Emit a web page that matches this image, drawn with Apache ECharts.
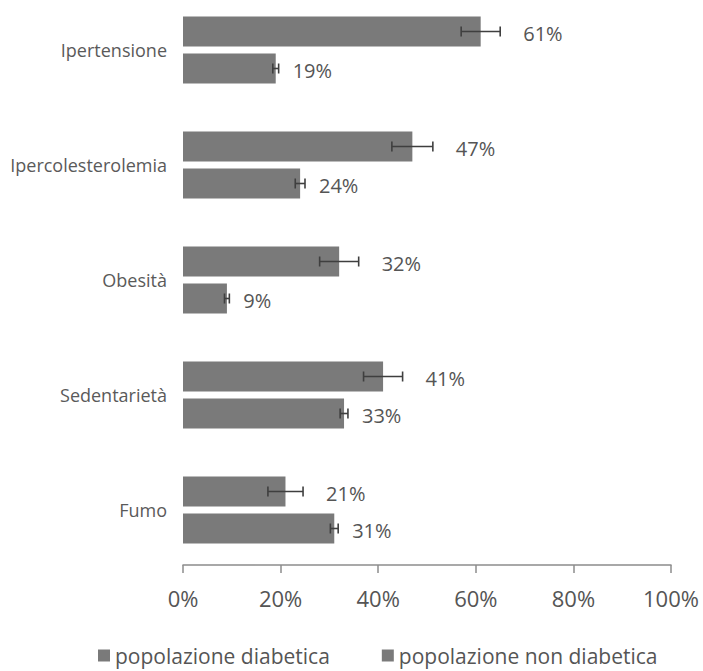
<!DOCTYPE html>
<html>
<head>
<meta charset="utf-8">
<script src="https://cdn.jsdelivr.net/npm/echarts@6/dist/echarts.min.js"></script>
<style>
  html, body { margin: 0; padding: 0; background: #fff; }
  #chart { width: 703px; height: 671px; }
</style>
</head>
<body>
<div id="chart"></div>
<script>
// Risk factors, diabetic vs non-diabetic population (percent, with error margins)
const categories = ['Ipertensione', 'Ipercolesterolemia', 'Obesità', 'Sedentarietà', 'Fumo'];
const seriesNames = ['popolazione diabetica', 'popolazione non diabetica'];
const diabetic = [61, 47, 32, 41, 21];
const nonDiabetic = [19, 24, 9, 33, 31];
const diabeticErr = [4, 4.2, 4, 4, 3.6];
const nonDiabeticErr = [0.6, 1, 0.5, 0.8, 0.8];
const tickValues = [0, 20, 40, 60, 80, 100];

const FONT = "'Open Sans', 'Noto Sans', sans-serif";
const BAR_COLOR = '#7a7a7a';
const BAR_WIDTH = 30;
const BAR_GAP_PX = 7;
const HALF_STEP = (BAR_WIDTH + BAR_GAP_PX) / 2;

// Error bar + value label drawn for one bar series
function errorBars(offset, labelGap, fontSize) {
  return function (params, api) {
    const v = api.value(0);
    const cat = api.value(1);
    const e = api.value(2);
    const lo = api.coord([v - e, cat]);
    const hi = api.coord([v + e, cat]);
    const y = lo[1] + offset;
    const cap = 5;
    const stroke = { stroke: '#3f3f3f', lineWidth: 1.6 };
    return {
      type: 'group',
      children: [
        { type: 'line', shape: { x1: lo[0], y1: y, x2: hi[0], y2: y }, style: stroke },
        { type: 'line', shape: { x1: lo[0], y1: y - cap, x2: lo[0], y2: y + cap }, style: stroke },
        { type: 'line', shape: { x1: hi[0], y1: y - cap, x2: hi[0], y2: y + cap }, style: stroke },
        {
          type: 'text',
          x: hi[0] + labelGap,
          y: y + 2,
          style: {
            text: v + '%',
            fill: '#555',
            font: fontSize + 'px ' + FONT,
            align: 'left',
            verticalAlign: 'middle'
          }
        }
      ]
    };
  };
}

const chart = echarts.init(document.getElementById('chart'), null, { renderer: 'svg' });

chart.setOption({
  animation: false,
  backgroundColor: '#fff',
  textStyle: { fontFamily: FONT },
  // categories sit on ticks; the value axis is pushed down below the last group
  grid: { left: 183, right: 32, top: 50, bottom: 161, containLabel: false },
  legend: {
    data: seriesNames.map(n => ({ name: n, icon: 'rect' })),
    left: 93,
    top: 640,
    itemWidth: 12,
    itemHeight: 12,
    itemGap: 52,
    textStyle: { fontSize: 21, color: '#555', fontFamily: FONT }
  },
  xAxis: {
    type: 'value',
    min: tickValues[0],
    max: tickValues[tickValues.length - 1],
    interval: tickValues[1] - tickValues[0],
    offset: 55,
    axisLine: { show: true, lineStyle: { color: '#8c8c8c', width: 1.5 } },
    axisTick: { show: true, length: 8, lineStyle: { color: '#8c8c8c', width: 1.5 } },
    splitLine: { show: false },
    axisLabel: { formatter: '{value}%', fontSize: 22, color: '#555', margin: 22, fontFamily: FONT }
  },
  yAxis: {
    type: 'category',
    data: categories,
    inverse: true,
    boundaryGap: false,
    axisLine: { show: false },
    axisTick: { show: false },
    axisLabel: { fontSize: 18, color: '#5a5a5a', margin: 16, fontFamily: FONT }
  },
  series: [
    {
      name: seriesNames[0],
      type: 'bar',
      data: diabetic,
      barWidth: BAR_WIDTH,
      barGap: (BAR_GAP_PX / BAR_WIDTH * 100) + '%',
      itemStyle: { color: BAR_COLOR }
    },
    {
      name: seriesNames[1],
      type: 'bar',
      data: nonDiabetic,
      barWidth: BAR_WIDTH,
      itemStyle: { color: BAR_COLOR }
    },
    {
      type: 'custom',
      renderItem: errorBars(-HALF_STEP, 23, 20),
      data: diabetic.map((v, i) => [v, i, diabeticErr[i]]),
      encode: { x: 0, y: 1 },
      z: 5
    },
    {
      type: 'custom',
      renderItem: errorBars(HALF_STEP, 14, 20),
      data: nonDiabetic.map((v, i) => [v, i, nonDiabeticErr[i]]),
      encode: { x: 0, y: 1 },
      z: 5
    }
  ]
});
</script>
</body>
</html>
